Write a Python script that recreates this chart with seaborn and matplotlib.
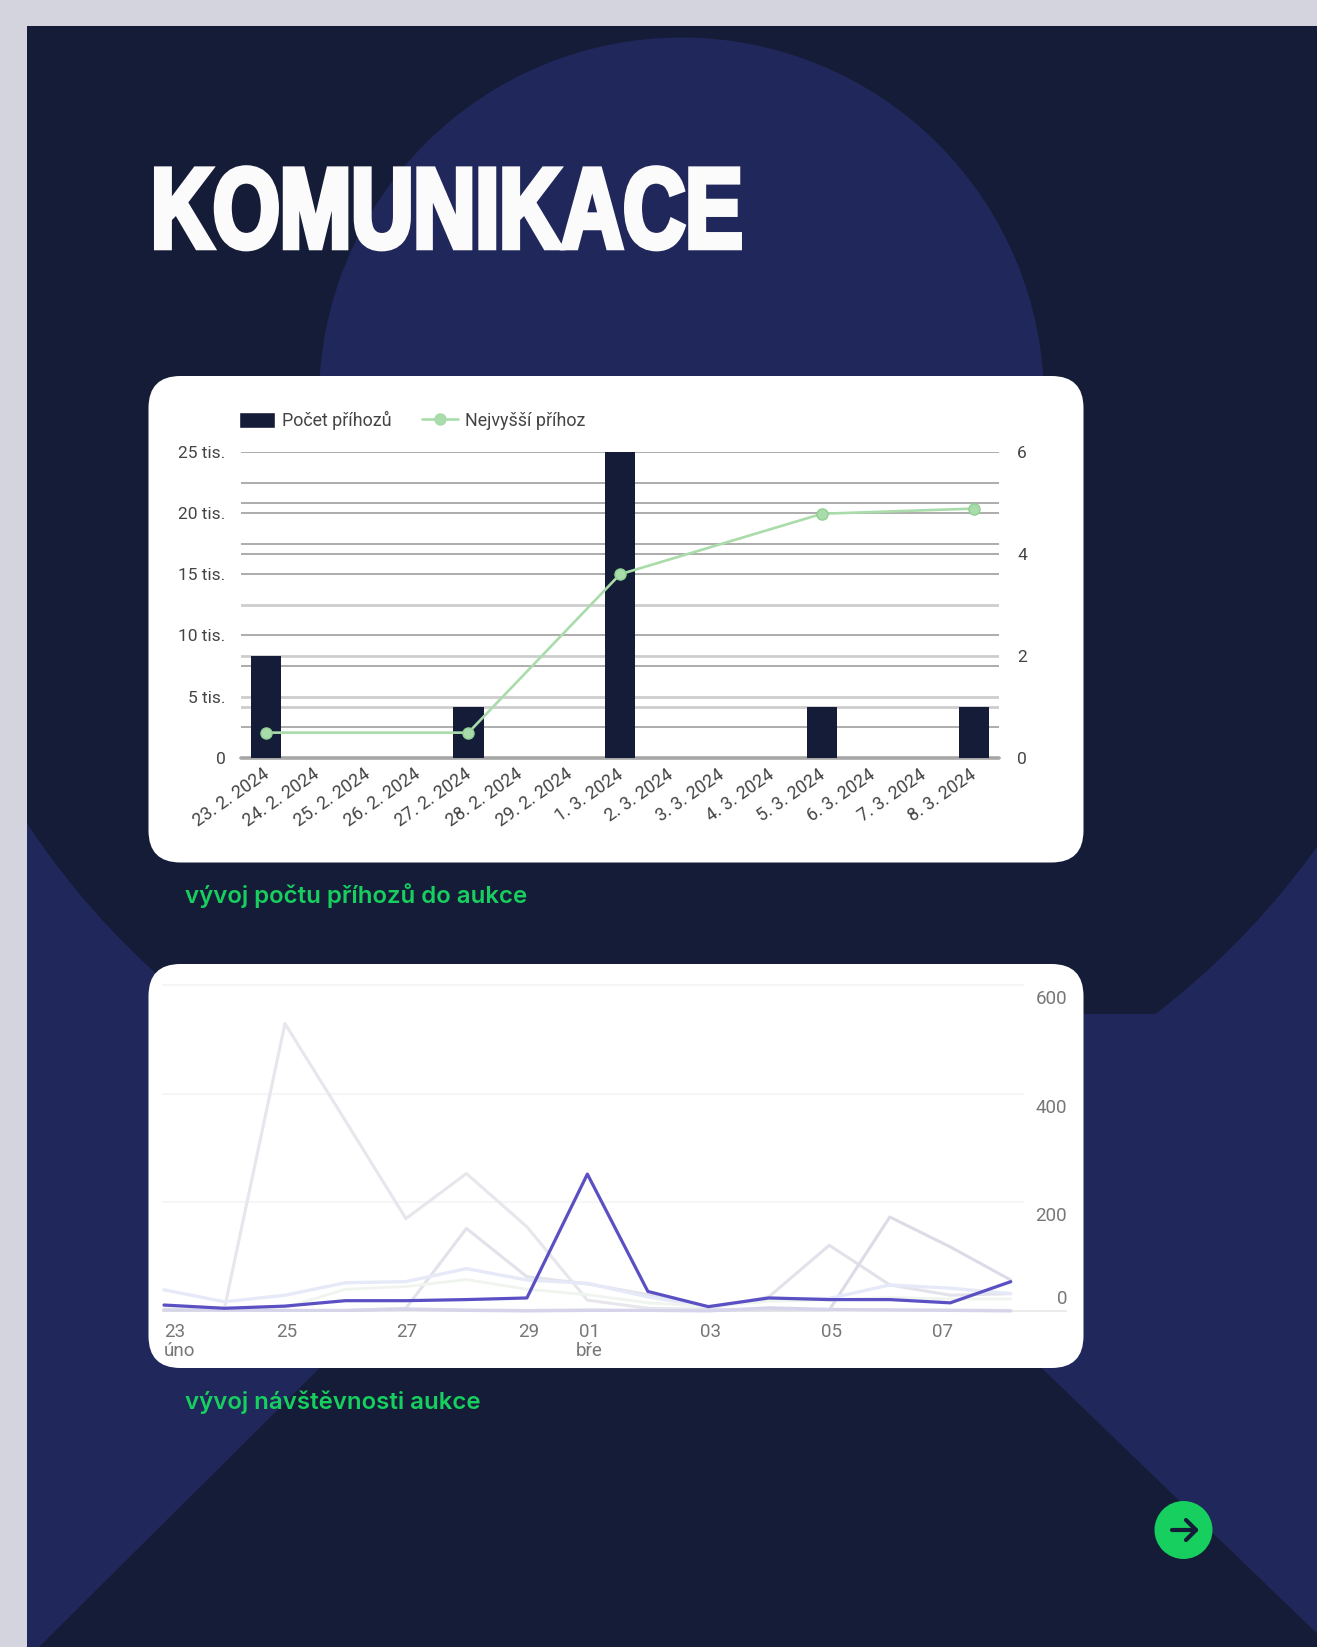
import numpy as np
import pandas as pd
import matplotlib
matplotlib.use("Agg")
import matplotlib.pyplot as plt
import matplotlib.patheffects as pe
from matplotlib.lines import Line2D
from matplotlib.patches import Circle, FancyBboxPatch, Patch, Polygon, Rectangle
from matplotlib.transforms import Affine2D, ScaledTranslation
import seaborn as sns

# --- chart 1 data ---
bid_dates = ["23. 2. 2024", "24. 2. 2024", "25. 2. 2024", "26. 2. 2024", "27. 2. 2024",
             "28. 2. 2024", "29. 2. 2024", "1. 3. 2024", "2. 3. 2024", "3. 3. 2024",
             "4. 3. 2024", "5. 3. 2024", "6. 3. 2024", "7. 3. 2024", "8. 3. 2024"]
bid_counts = [2, 0, 0, 0, 1, 0, 0, 6, 0, 0, 0, 1, 0, 0, 1]
top_bid = [2050, None, None, None, 2050, None, None, 15000, None, None, None, 19950, None, None, 20370]
left_ticks = [0, 5000, 10000, 15000, 20000, 25000]
left_labels = ["0", "5 tis.", "10 tis.", "15 tis.", "20 tis.", "25 tis."]
right_ticks = [0, 2, 4, 6]
grid_dark = [2500, 10000, 15000, 17500, 16667, 20000, 20833, 22500, 25000, 7500]
grid_light = [4167, 5000, 8333, 12500]

# --- chart 2 data ---
day_index = list(range(15))
day_ticks = [0, 2.03, 4.02, 6.03, 7.03, 9.03, 11.03, 12.87]
day_labels = ["23\núno", "25", "27", "29", "01\nbře", "03", "05", "07"]
visits_a = [8, 5, 529, 350, 170, 253, 155, 20, 5, 3, 3, 3, 2, 2, 1]
visits_b = [1, 1, 1, 1, 5, 152, 63, 50, 30, 5, 26, 121, 48, 29, 32]
visits_c = [2, 1, 1, 1, 4, 2, 1, 2, 1, 1, 2, 2, 173, 118, 57]
visits_d = [39, 17, 29, 52, 54, 78, 57, 51, 26, 8, 23, 23, 48, 42, 32]
visits_e = [5, 3, 6, 40, 45, 58, 40, 30, 15, 8, 18, 20, 25, 22, 22]
visits_f = [2, 2, 1, 1, 3, 1, 0, 1, 1, 0, 6, 3, 2, 1, 0]
visits_main = [11, 5, 9, 19, 19, 21, 24, 252, 36, 8, 24, 21, 21, 15, 54]
visit_ticks = [0, 200, 400, 600]

# --- page colours ---
PAGE = "#d3d4de"
DARK = "#151c38"
NAVY = "#20275a"
GREEN = "#17cf5e"
LINE_GREEN = "#a9dcaa"
PURPLE = "#5a50c4"
W, H = 1317, 1647

sns.set_theme(style="white")
plt.rcParams["font.family"] = ["Roboto", "DejaVu Sans"]


class Squeeze(pe.AbstractPathEffect):
    # narrows a text horizontally, no heavy condensed font is installed
    def __init__(self, x0, sx, stroke, color):
        super().__init__()
        self.x0, self.sx, self.stroke, self.color = x0, sx, stroke, color

    def draw_path(self, renderer, gc, tpath, affine, rgbFace=None):
        gc0 = renderer.new_gc()
        gc0.copy_properties(gc)
        gc0.set_linewidth(self.stroke)
        gc0.set_foreground(self.color)
        gc0.set_joinstyle("miter")
        tr = affine + Affine2D().translate(-self.x0, 0).scale(self.sx, 1).translate(self.x0, 0)
        renderer.draw_path(gc0, tpath, tr, rgbFace)
        gc0.restore()


def axes_px(fig, x0, y0, x1, y1):
    # axes from pixel box, y counted from the top
    return fig.add_axes([x0 / W, 1 - y1 / H, (x1 - x0) / W, (y1 - y0) / H], facecolor="none", zorder=2)


fig = plt.figure(figsize=(W / 100, H / 100), dpi=100, facecolor=PAGE)

# --- background shapes ---
bg = fig.add_axes([0, 0, 1, 1], zorder=0)
bg.set_xlim(0, W)
bg.set_ylim(H, 0)
bg.axis("off")
bg.add_patch(Rectangle((27, 26), W - 27, H - 26, color=NAVY, lw=0))
big = Circle((680, 393), 782, color=DARK, lw=0)
bg.add_patch(big)
big.set_clip_path(Rectangle((27, 26), W - 27, 1014 - 26, transform=bg.transData))
bg.add_patch(Circle((681.5, 400), 362.5, color=NAVY, lw=0))
bg.add_patch(Polygon([(660, 1030), (691, 1030), (1331, 1647), (39, 1647)], color=DARK, lw=0))
for top, bottom in [(376, 862.5), (964, 1368)]:
    bg.add_patch(FancyBboxPatch((148.5, top), 935, bottom - top,
                                boxstyle="round,pad=0,rounding_size=32", fc="white", ec="none"))

# arrow button
bg.add_patch(Circle((1183.5, 1530), 29, color=GREEN, lw=0))
bg.plot([1172, 1196], [1530, 1530], color=DARK, lw=3, solid_capstyle="round")
bg.plot([1186, 1196, 1186], [1520, 1530, 1540], color=DARK, lw=3,
        solid_capstyle="round", solid_joinstyle="round")

# title and captions
title = bg.text(151, 247.5, "KOMUNIKACE", color="#fbfbfc", fontsize=82, va="baseline", ha="left",
                family="Liberation Sans", weight="bold")
title.set_path_effects([Squeeze(151, 0.754, 4.0, "#fbfbfc")])
bg.text(185, 896, "vývoj počtu příhozů do aukce", color=GREEN, fontsize=17.3, family="Inter",
        weight="semibold", va="center", ha="left")
bg.text(185, 1402, "vývoj návštěvnosti aukce", color=GREEN, fontsize=17.3, family="Inter",
        weight="semibold", va="center", ha="left")

# --- chart 1: bars on the right scale, line on the left scale ---
ax_bar = axes_px(fig, 241, 452, 999, 757.7)
bars = pd.DataFrame({"date": bid_dates, "count": bid_counts})
sns.barplot(data=bars, x="date", y="count", color=DARK, saturation=1, width=0.6, linewidth=0,
            ax=ax_bar, zorder=3)
ax_bar.set_xlim(-0.5, 14.5)
ax_bar.set_ylim(0, 6)
ax_bar.set_xlabel("")
ax_bar.set_ylabel("")
ax_bar.tick_params(axis="x", length=0, pad=7)
shift = ScaledTranslation(-3 / 72, 1.5 / 72, fig.dpi_scale_trans)
for lab in ax_bar.get_xticklabels():
    lab.set(rotation=35, ha="right", rotation_mode="anchor", fontsize=12.8, color="#444444")
    lab.set_transform(lab.get_transform() + shift)
sns.despine(ax=ax_bar, left=True, right=True, top=True, bottom=True)

for v in grid_dark:
    ax_bar.axhline(v / 25000 * 6, color="#a6a6a6", lw=1.3, zorder=1)
for v in grid_light:
    ax_bar.axhline(v / 25000 * 6, color="#cdcdcd", lw=2.0, zorder=1)
ax_bar.axhline(0, color="#a6a6a6", lw=2.6, zorder=1, clip_on=False)

ax_line = ax_bar.twinx()
ax_line.set_facecolor("none")
line = pd.DataFrame({"pos": range(len(bid_dates)), "bid": top_bid}).dropna()
sns.lineplot(data=line, x="pos", y="bid", color=LINE_GREEN, lw=1.9, marker="o", markersize=8,
             markeredgecolor="#8fd093", markeredgewidth=1, ax=ax_line, zorder=5)
ax_line.set_ylim(0, 25000)
ax_line.set_yticks(left_ticks)
ax_line.set_yticklabels(left_labels)
ax_line.set_xlabel("")
ax_line.set_ylabel("")
sns.despine(ax=ax_line, left=True, right=True, top=True, bottom=True)

# twinx moves the tick sides, so the sides are set after it
ax_line.yaxis.tick_left()
ax_line.tick_params(axis="y", length=0, pad=11, labelsize=12.5, labelcolor="#444444")
ax_bar.yaxis.tick_right()
ax_bar.set_yticks(right_ticks)
ax_bar.tick_params(axis="y", length=0, pad=13, labelsize=12.5, labelcolor="#444444")

handles = [Patch(facecolor=DARK, label="Počet příhozů"),
           Line2D([], [], color=LINE_GREEN, lw=1.9, marker="o", markersize=8, label="Nejvyšší příhoz")]
ax_line.legend(handles=handles, loc="lower left", bbox_to_anchor=(-0.003, 1.071), ncol=2, frameon=False,
               fontsize=12.9, labelcolor="#444444", borderpad=0, borderaxespad=0,
               handlelength=2.0, handleheight=0.95, handletextpad=0.4, columnspacing=1.7)

# --- chart 2: faint comparison lines with the highlighted one on top ---
ax_vis = axes_px(fig, 162, 980, 1067, 1316)
faint = [(visits_a, "#e6e6ec", 2.2), (visits_b, "#e2e2ea", 2.2), (visits_c, "#dcdce8", 2.2),
         (visits_d, "#e6e9f8", 2.4), (visits_e, "#f0f4ee", 2.0), (visits_f, "#d6d4ea", 2.2)]
for values, col, width in faint:
    sns.lineplot(x=day_index, y=values, color=col, lw=width, ax=ax_vis, zorder=3)
sns.lineplot(x=day_index, y=visits_main, color=PURPLE, lw=2.3, ax=ax_vis, zorder=4)
ax_vis.set_xlim(-0.033, 14.93)
ax_vis.set_ylim(-9.2, 609.2)
ax_vis.set_xlabel("")
ax_vis.set_ylabel("")
ax_vis.set_xticks(day_ticks)
ax_vis.set_xticklabels(day_labels, fontsize=13.5, color="#777777", linespacing=1.05)
ax_vis.get_xticklabels()[0].set_ha("left")
ax_vis.tick_params(axis="x", length=0, pad=5)
ax_vis.set_yticks([])
sns.despine(ax=ax_vis, left=True, right=True, top=True, bottom=True)
for v in visit_ticks[1:]:
    ax_vis.plot([-0.033, 14.2], [v, v], color="#f6f6f6", lw=1.6, zorder=1)
    ax_vis.annotate(str(v), xy=(1, v), xycoords=("axes fraction", "data"), xytext=(0, -10),
                    textcoords="offset points", ha="right", va="center", fontsize=13.5, color="#777777")
ax_vis.plot([-0.033, 14.93], [0, 0], color="#e8e8e8", lw=1.2, zorder=1)
ax_vis.annotate("0", xy=(1, 0), xycoords=("axes fraction", "data"), xytext=(0, 9),
                textcoords="offset points", ha="right", va="center", fontsize=13.5, color="#777777")

fig.savefig("out.png", dpi=100, facecolor=PAGE)
plt.close(fig)
